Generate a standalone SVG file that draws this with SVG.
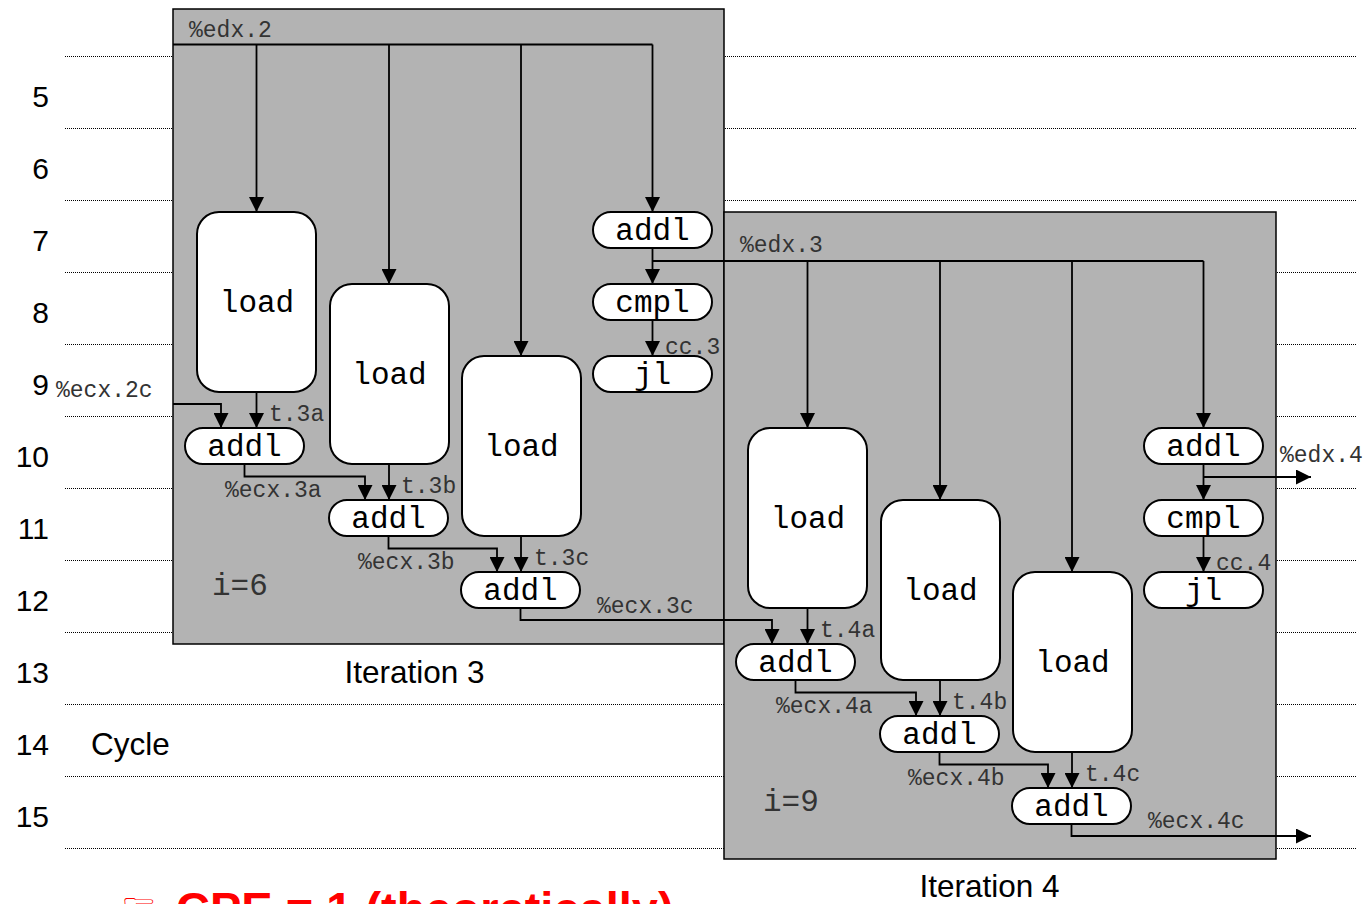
<svg xmlns="http://www.w3.org/2000/svg" width="1363" height="904" viewBox="0 0 1363 904">
<defs>
<style>
.grid{stroke:#000;stroke-width:1;stroke-dasharray:1 1;fill:none}
.box{fill:#b3b3b3;stroke:#000;stroke-width:1.5}
.op{fill:#fff;stroke:#000;stroke-width:2}
.wire{fill:none;stroke:#000;stroke-width:1.8}
.arr{marker-end:url(#ah)}
.opt{font-family:'Liberation Mono','DejaVu Sans Mono',monospace;font-size:31px;text-anchor:middle;fill:#000}
.lbl{font-family:'Liberation Mono','DejaVu Sans Mono',monospace;font-size:23px;fill:#333}
.big{font-family:'Liberation Mono','DejaVu Sans Mono',monospace;font-size:31px;fill:#333}
.cyc{font-family:'Liberation Sans',Arial,sans-serif;font-size:30px;fill:#000}
.ttl{font-family:'Liberation Sans',Arial,sans-serif;font-size:31.5px;fill:#000}
.num{text-anchor:end}
.mid{text-anchor:middle}
.cpe{font-family:'Liberation Sans',Arial,sans-serif;font-size:47px;font-weight:bold;fill:#ff0000}
</style>
<marker id="ah" markerUnits="userSpaceOnUse" markerWidth="15" markerHeight="15" refX="15" refY="7.5" orient="auto">
<path d="M0,0 L15,7.5 L0,15 Z" fill="#000"/>
</marker>
</defs>

<g id="grid">
<line class="grid" x1="65" y1="56.5" x2="1357" y2="56.5"/>
<line class="grid" x1="65" y1="128.5" x2="1357" y2="128.5"/>
<line class="grid" x1="65" y1="200.5" x2="1357" y2="200.5"/>
<line class="grid" x1="65" y1="272.5" x2="1357" y2="272.5"/>
<line class="grid" x1="65" y1="344.5" x2="1357" y2="344.5"/>
<line class="grid" x1="65" y1="416.5" x2="1357" y2="416.5"/>
<line class="grid" x1="65" y1="488.5" x2="1357" y2="488.5"/>
<line class="grid" x1="65" y1="560.5" x2="1357" y2="560.5"/>
<line class="grid" x1="65" y1="632.5" x2="1357" y2="632.5"/>
<line class="grid" x1="65" y1="704.5" x2="1357" y2="704.5"/>
<line class="grid" x1="65" y1="776.5" x2="1357" y2="776.5"/>
<line class="grid" x1="65" y1="848.5" x2="1357" y2="848.5"/>
</g>

<g id="cycles">
<text class="cyc num" x="49" y="107">5</text>
<text class="cyc num" x="49" y="179">6</text>
<text class="cyc num" x="49" y="251">7</text>
<text class="cyc num" x="49" y="323">8</text>
<text class="cyc num" x="49" y="395">9</text>
<text class="cyc num" x="49" y="467">10</text>
<text class="cyc num" x="49" y="539">11</text>
<text class="cyc num" x="49" y="611">12</text>
<text class="cyc num" x="49" y="683">13</text>
<text class="cyc num" x="49" y="755">14</text>
<text class="cyc num" x="49" y="827">15</text>
<text class="ttl" x="91" y="755">Cycle</text>
</g>

<g id="iteration3">
<rect class="box" x="173" y="9" width="551" height="635"/>
<text class="ttl mid" x="414.5" y="683">Iteration 3</text>
<text class="big" x="212" y="595">i=6</text>
</g>
<g id="iteration4">
<rect class="box" x="724" y="212" width="552" height="647"/>
<text class="ttl mid" x="989.5" y="897">Iteration 4</text>
<text class="big" x="763" y="811">i=9</text>
</g>

<g id="connectors">
<path class="wire" d="M173,44.5 H652.5"/>
<path class="wire arr" d="M256.5,44.5 V212"/>
<path class="wire arr" d="M389,44.5 V284"/>
<path class="wire arr" d="M521,44.5 V356"/>
<path class="wire arr" d="M652.5,44.5 V212"/>
<path class="wire arr" d="M652.5,248 V284"/>
<path class="wire" d="M652.5,261 H1203.5"/>
<path class="wire arr" d="M807.5,261 V428"/>
<path class="wire arr" d="M940,261 V500"/>
<path class="wire arr" d="M1072,261 V572"/>
<path class="wire arr" d="M1203.5,261 V428"/>
<path class="wire arr" d="M652.5,320 V356"/>
<path class="wire arr" d="M173,404 H221 V428"/>
<path class="wire arr" d="M256.5,392 V428"/>
<path class="wire arr" d="M244.5,464 V476.5 H365 V500"/>
<path class="wire arr" d="M389,464 V500"/>
<path class="wire arr" d="M388.5,536 V548.5 H497 V572"/>
<path class="wire arr" d="M521,536 V572"/>
<path class="wire arr" d="M520.5,608 V620 H772 V644"/>
<path class="wire arr" d="M1203.5,464 V500"/>
<path class="wire arr" d="M1203.5,477 H1311"/>
<path class="wire arr" d="M1203.5,536 V572"/>
<path class="wire arr" d="M807.5,608 V644"/>
<path class="wire arr" d="M795.5,680 V692.5 H916 V716"/>
<path class="wire arr" d="M940,680 V716"/>
<path class="wire arr" d="M939.5,752 V764.5 H1048 V788"/>
<path class="wire arr" d="M1072,752 V788"/>
<path class="wire arr" d="M1071.5,824 V836 H1311"/>
<text class="lbl" x="189" y="37">%edx.2</text>
<text class="lbl" x="665" y="354">cc.3</text>
<text class="lbl" x="56" y="397">%ecx.2c</text>
<text class="lbl" x="269" y="421">t.3a</text>
<text class="lbl" x="225" y="497">%ecx.3a</text>
<text class="lbl" x="401" y="493">t.3b</text>
<text class="lbl" x="358" y="569">%ecx.3b</text>
<text class="lbl" x="534" y="565">t.3c</text>
<text class="lbl" x="597" y="613">%ecx.3c</text>
<text class="lbl" x="740" y="252">%edx.3</text>
<text class="lbl" x="1280" y="462">%edx.4</text>
<text class="lbl" x="1216" y="570">cc.4</text>
<text class="lbl" x="820" y="637">t.4a</text>
<text class="lbl" x="776" y="713">%ecx.4a</text>
<text class="lbl" x="952" y="709">t.4b</text>
<text class="lbl" x="908" y="785">%ecx.4b</text>
<text class="lbl" x="1085" y="781">t.4c</text>
<text class="lbl" x="1148" y="828">%ecx.4c</text>
</g>

<g id="load3a"><rect class="op" x="197" y="212" width="119" height="180" rx="22"/><text class="opt" x="257" y="312">load</text></g>
<g id="load3b"><rect class="op" x="330" y="284" width="119" height="180" rx="22"/><text class="opt" x="389.5" y="384">load</text></g>
<g id="load3c"><rect class="op" x="462" y="356" width="119" height="180" rx="22"/><text class="opt" x="521.5" y="456">load</text></g>
<g id="addl3i"><rect class="op" x="593" y="212" width="119" height="36" rx="18"/><text class="opt" x="652.5" y="240">addl</text></g>
<g id="cmpl3"><rect class="op" x="593" y="284" width="119" height="36" rx="18"/><text class="opt" x="652.5" y="312">cmpl</text></g>
<g id="jl3"><rect class="op" x="593" y="356" width="119" height="36" rx="18"/><text class="opt" x="652.5" y="384">jl</text></g>
<g id="addl3a"><rect class="op" x="185" y="428" width="119" height="36" rx="18"/><text class="opt" x="244.5" y="456">addl</text></g>
<g id="addl3b"><rect class="op" x="329" y="500" width="119" height="36" rx="18"/><text class="opt" x="388.5" y="528">addl</text></g>
<g id="addl3c"><rect class="op" x="461" y="572" width="119" height="36" rx="18"/><text class="opt" x="520.5" y="600">addl</text></g>

<g id="load4a"><rect class="op" x="748" y="428" width="119" height="180" rx="22"/><text class="opt" x="808" y="528">load</text></g>
<g id="load4b"><rect class="op" x="881" y="500" width="119" height="180" rx="22"/><text class="opt" x="940.5" y="600">load</text></g>
<g id="load4c"><rect class="op" x="1013" y="572" width="119" height="180" rx="22"/><text class="opt" x="1072.5" y="672">load</text></g>
<g id="addl4i"><rect class="op" x="1144" y="428" width="119" height="36" rx="18"/><text class="opt" x="1203.5" y="456">addl</text></g>
<g id="cmpl4"><rect class="op" x="1144" y="500" width="119" height="36" rx="18"/><text class="opt" x="1203.5" y="528">cmpl</text></g>
<g id="jl4"><rect class="op" x="1144" y="572" width="119" height="36" rx="18"/><text class="opt" x="1203.5" y="600">jl</text></g>
<g id="addl4a"><rect class="op" x="736" y="644" width="119" height="36" rx="18"/><text class="opt" x="795.5" y="672">addl</text></g>
<g id="addl4b"><rect class="op" x="880" y="716" width="119" height="36" rx="18"/><text class="opt" x="939.5" y="744">addl</text></g>
<g id="addl4c"><rect class="op" x="1012" y="788" width="119" height="36" rx="18"/><text class="opt" x="1071.5" y="816">addl</text></g>

<g id="cpe">
<text x="121" y="921" font-family="'DejaVu Sans',sans-serif" font-size="40" fill="#ff0000">☞</text>
<text class="cpe" x="176" y="925">CPE = 1 (theoretically)</text>
</g>
</svg>
